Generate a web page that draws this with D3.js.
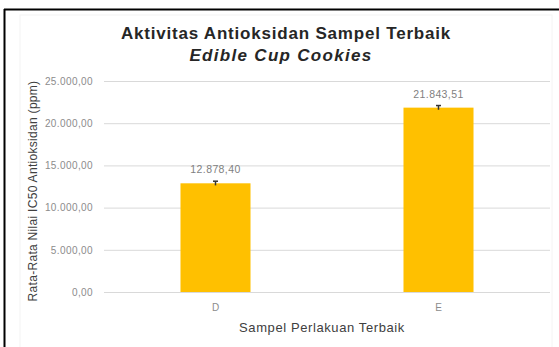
<!DOCTYPE html>
<html>
<head>
<meta charset="utf-8">
<script src="https://cdn.jsdelivr.net/npm/d3@7"></script>
<style>
  html, body { margin: 0; padding: 0; background: #fff; }
  svg { display: block; font-family: "Liberation Sans", Arial, sans-serif; }
</style>
</head>
<body>
<div id="chart"></div>
<script>
// data
const categories = ['D', 'E']
const meanValues = [12878.40, 21843.51]
const errorValues = [250, 250]
const yTicks = [0, 5000, 10000, 15000, 20000, 25000]

const width = 559
const height = 347
const margin = { top: 81, right: 9, bottom: 55, left: 104 }

const idLocale = d3.formatLocale({ decimal: ',', thousands: '.', grouping: [3], currency: ['', ''] })
const fmt = idLocale.format(',.2f')

const svg = d3.select('#chart')
    .append('svg')
    .attr('width', width)
    .attr('height', height)

// outer frame (top + left visible in reference)
svg.append('rect')
    .attr('x', 20).attr('y', 15)
    .attr('width', 532).attr('height', 340)
    .attr('fill', 'none')
    .attr('stroke', '#f4f4f4')
svg.append('line')
    .attr('x1', 4).attr('x2', width).attr('y1', 9.5).attr('y2', 9.5)
    .attr('stroke', '#000').attr('stroke-width', 2)
svg.append('line')
    .attr('x1', 4.5).attr('x2', 4.5).attr('y1', 9).attr('y2', height)
    .attr('stroke', '#000').attr('stroke-width', 2)

const x = d3.scaleBand()
    .domain(categories)
    .range([margin.left, width - margin.right])
    .paddingInner(0.686)
    .paddingOuter(0.343)

const y = d3.scaleLinear()
    .domain([0, 25000])
    .range([height - margin.bottom, margin.top])

// gridlines + tick labels
const yAxis = d3.axisLeft(y)
    .tickValues(yTicks)
    .tickFormat(fmt)
    .tickSize(-(width - margin.right - margin.left))
    .tickPadding(11)

const gy = svg.append('g')
    .attr('transform', `translate(${margin.left},0)`)
    .call(yAxis)
gy.select('.domain').remove()
gy.selectAll('.tick line').attr('stroke', '#d9d9d9')
gy.selectAll('.tick text')
    .attr('fill', '#8c8c8c')
    .attr('font-size', 10)
    .attr('letter-spacing', 0.4)

// bars
svg.append('g')
    .selectAll('rect')
    .data(categories)
    .join('rect')
    .attr('x', d => x(d))
    .attr('width', x.bandwidth())
    .attr('y', (d, i) => y(meanValues[i]))
    .attr('height', (d, i) => y(0) - y(meanValues[i]))
    .attr('fill', '#ffc000')

// error bars
const err = svg.append('g')
    .selectAll('g')
    .data(categories)
    .join('g')
    .attr('stroke', '#333')
    .attr('stroke-width', 1.5)
err.append('line')
    .attr('x1', d => x(d) + x.bandwidth() / 2)
    .attr('x2', d => x(d) + x.bandwidth() / 2)
    .attr('y1', (d, i) => y(meanValues[i] + errorValues[i]))
    .attr('y2', (d, i) => y(meanValues[i] - errorValues[i]))
err.append('line')
    .attr('x1', d => x(d) + x.bandwidth() / 2 - 2.5)
    .attr('x2', d => x(d) + x.bandwidth() / 2 + 2.5)
    .attr('y1', (d, i) => y(meanValues[i] + errorValues[i]))
    .attr('y2', (d, i) => y(meanValues[i] + errorValues[i]))

// value labels
svg.append('g')
    .selectAll('text')
    .data(categories)
    .join('text')
    .attr('x', d => x(d) + x.bandwidth() / 2)
    .attr('y', (d, i) => y(meanValues[i] + errorValues[i]) - 8)
    .attr('text-anchor', 'middle')
    .attr('font-size', 10.5)
    .attr('letter-spacing', 0.4)
    .attr('fill', '#7f7f7f')
    .text((d, i) => fmt(meanValues[i]))

// x category labels
svg.append('g')
    .selectAll('text')
    .data(categories)
    .join('text')
    .attr('x', d => x(d) + x.bandwidth() / 2)
    .attr('y', y(0) + 19)
    .attr('text-anchor', 'middle')
    .attr('font-size', 10)
    .attr('fill', '#8c8c8c')
    .text(d => d)

// titles
svg.append('text')
    .attr('x', 286).attr('y', 39)
    .attr('text-anchor', 'middle')
    .attr('font-size', 17).attr('font-weight', 'bold')
    .attr('letter-spacing', 0.8)
    .attr('fill', '#262626')
    .text('Aktivitas Antioksidan Sampel Terbaik')
svg.append('text')
    .attr('x', 281).attr('y', 61)
    .attr('text-anchor', 'middle')
    .attr('font-size', 17).attr('font-weight', 'bold').attr('font-style', 'italic')
    .attr('letter-spacing', 1.3)
    .attr('fill', '#262626')
    .text('Edible Cup Cookies')

svg.append('text')
    .attr('x', 322).attr('y', 332)
    .attr('text-anchor', 'middle')
    .attr('font-size', 13)
    .attr('letter-spacing', 0.6)
    .attr('fill', '#404040')
    .text('Sampel Perlakuan Terbaik')

svg.append('text')
    .attr('transform', 'translate(37,191) rotate(-90)')
    .attr('text-anchor', 'middle')
    .attr('font-size', 12)
    .attr('letter-spacing', 0.3)
    .attr('fill', '#404040')
    .text('Rata-Rata Nilai IC50 Antioksidan (ppm)')
</script>
</body>
</html>
